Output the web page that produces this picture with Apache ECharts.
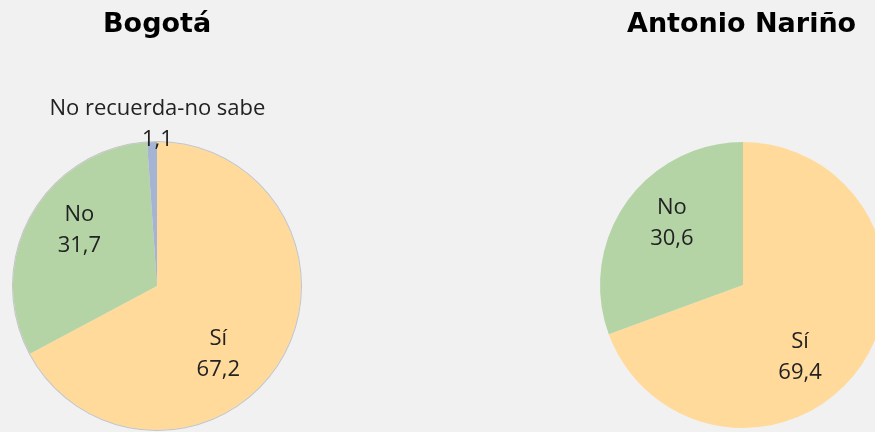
<!DOCTYPE html>
<html>
<head>
<meta charset="utf-8">
<script src="https://cdn.jsdelivr.net/npm/echarts@6/dist/echarts.min.js"></script>
<style>
  html, body { margin: 0; padding: 0; background: #f1f1f1; }
  #chart { width: 875px; height: 432px; }
</style>
</head>
<body>
<div id="chart"></div>
<script>
// datos: ¿recuerda? Bogotá vs Antonio Nariño
const titles = ['Bogotá', 'Antonio Nariño'];
const bogotaNames = ['Sí', 'No', 'No recuerda-no sabe'];
const bogotaValues = [67.2, 31.7, 1.1];
const narinoNames = ['Sí', 'No'];
const narinoValues = [69.4, 30.6];

const colors = ['#FFDA9B', '#B4D4A6', '#A4B4D2'];

const chart = echarts.init(document.getElementById('chart'));

function toData(names, values) {
  return names.map((n, i) => ({ name: n, value: values[i] }));
}

const labelStyle = {
  show: true,
  position: 'inside',
  formatter: p => p.name + '\n' + String(p.value).replace('.', ','),
  fontFamily: 'Open Sans',
  fontSize: 22,
  lineHeight: 31,
  color: '#222'
};

// desplazamientos de etiquetas (estilo Excel)
const shiftLeft = [[-3, 30], [-12, -19], [3, -87]];
const shiftRight = [[-4, 30], [-10, -19]];

const option = {
  backgroundColor: '#f1f1f1',
  animation: false,
  color: colors,
  title: [
    {
      text: titles[0], left: 103, top: 11, padding: 0,
      textStyle: { fontFamily: 'DejaVu Sans', fontWeight: 'bold', fontSize: 27, color: '#000' }
    },
    {
      text: titles[1], left: 627, top: 11, padding: 0,
      textStyle: { fontFamily: 'DejaVu Sans', fontWeight: 'bold', fontSize: 27, color: '#000' }
    }
  ],
  series: [
    {
      type: 'pie',
      center: [157, 286],
      radius: 144,
      startAngle: 90,
      clockwise: true,
      data: toData(bogotaNames, bogotaValues),
      itemStyle: { borderWidth: 0 },
      label: labelStyle,
      labelLine: { show: false },
      labelLayout: p => ({ dx: shiftLeft[p.dataIndex][0], dy: shiftLeft[p.dataIndex][1] })
    },
    {
      // borde gris del pie de Bogotá
      type: 'pie',
      center: [157, 286],
      radius: [144, 145],
      silent: true,
      data: [{ value: 1, itemStyle: { color: '#c4c4c4' } }],
      label: { show: false },
      labelLine: { show: false }
    },
    {
      type: 'pie',
      center: [743, 285],
      radius: 143,
      startAngle: 90,
      clockwise: true,
      data: toData(narinoNames, narinoValues),
      label: labelStyle,
      labelLine: { show: false },
      labelLayout: p => ({ dx: shiftRight[p.dataIndex][0], dy: shiftRight[p.dataIndex][1] })
    }
  ]
};

chart.setOption(option);
</script>
</body>
</html>
